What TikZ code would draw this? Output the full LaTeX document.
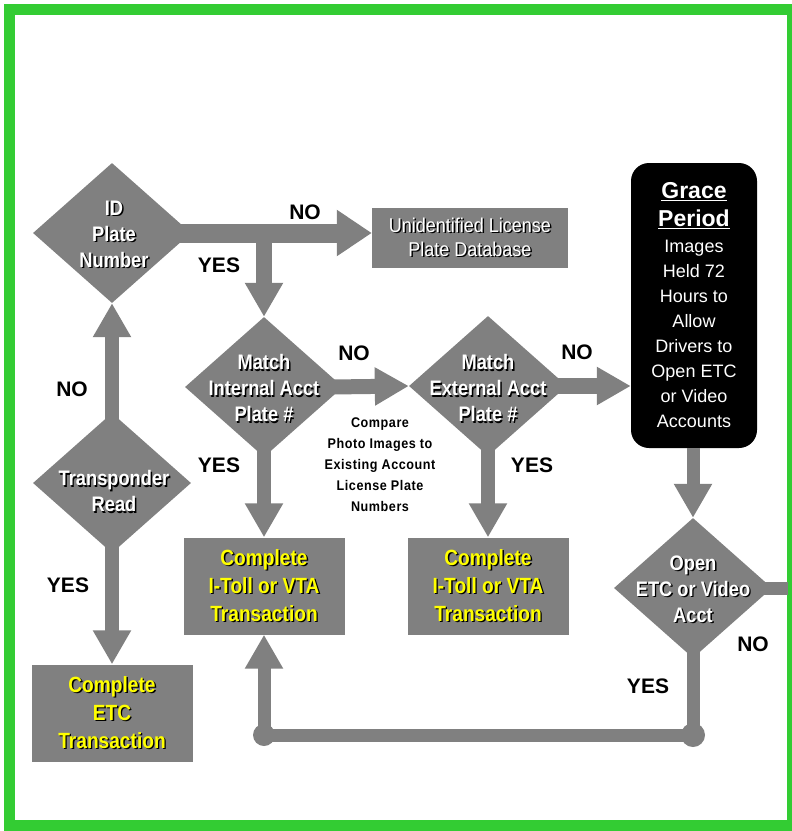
\documentclass[tikz,border=0pt]{standalone}
\usepackage{fontspec}
\setmainfont{Liberation Sans}
\newfontfamily\narrowfont[FakeStretch=0.87]{Liberation Sans}
\newfontfamily\unidfont[FakeStretch=0.9]{Liberation Sans}
\newfontfamily\cmpfont[FakeStretch=0.9,LetterSpace=4]{Liberation Sans}
\usetikzlibrary{shapes.geometric,arrows.meta}
\definecolor{fg}{RGB}{128,128,128}
\definecolor{grn}{RGB}{51,204,51}
\definecolor{ylw}{RGB}{255,255,0}
\newcommand\sdw[1]{\leavevmode\rlap{\kern1.4pt\raisebox{-1.4pt}{\textcolor{black}{#1}}}#1}
\begin{document}
\begin{tikzpicture}[x=1pt,y=-1pt,
  dia/.style={diamond, fill=fg, inner sep=0pt, minimum width=158pt, minimum height=140pt},
  dtext/.style={text=white, font=\narrowfont\fontsize{21}{26}\selectfont\bfseries, align=center, inner sep=0pt},
  rbox/.style={rectangle, fill=fg, inner sep=0pt, minimum width=161pt, minimum height=97pt},
  ctext/.style={text=ylw, font=\narrowfont\fontsize{22}{28}\selectfont\bfseries, align=center},
  lbl/.style={font=\fontsize{21}{21}\selectfont\bfseries, text=black, inner sep=0pt},
  conn/.style={draw=fg, line width=14pt},
  arr/.style={conn, -{Triangle[width=36pt,length=34pt]}},
]
\useasboundingbox (0,0) rectangle (792,831);
\fill[white] (0,0) rectangle (792,831);
\fill[grn] (4,4) rectangle (792,831);
\fill[white] (15,15) rectangle (787,820);

% decision diamonds
\node[dia] (id) at (112,233) {};
\node[dtext] (idt) at (114,235) {\sdw{ID}\\\sdw{Plate}\\\sdw{Number}};
\node[dia] (tr) at (112,483) {};
\node[dtext] (trt) at (114,492) {\sdw{Transponder}\\\sdw{Read}};
\node[dia] (mi) at (264,387) {};
\node[dtext] (mit) at (264,389) {\sdw{Match}\\\sdw{Internal Acct}\\\sdw{Plate \#}};
\node[dia] (me) at (488,386) {};
\node[dtext] (met) at (488,389) {\sdw{Match}\\\sdw{External Acct}\\\sdw{Plate \#}};
\node[dia] (op) at (693,588) {};
\node[dtext] (opt) at (693,590) {\sdw{Open}\\\sdw{ETC or Video}\\\sdw{Acct}};

% boxes
\node[rbox, minimum width=196pt, minimum height=60pt, text=white, align=center,
      font=\unidfont\fontsize{20}{24}\selectfont] (unid) at (470,238)
      {\sdw{Unidentified License}\\\sdw{Plate Database}};
\node[rbox, ctext] (etc) at (112,713) {\sdw{Complete}\\\sdw{ETC}\\\sdw{Transaction}};
\node[rbox, ctext] (itl) at (264,586) {\sdw{Complete}\\\sdw{I-Toll or VTA}\\\sdw{Transaction}};
\node[rbox, ctext] (itr) at (488,586) {\sdw{Complete}\\\sdw{I-Toll or VTA}\\\sdw{Transaction}};
\node[fill=black, rounded corners=18pt, minimum width=126pt, minimum height=285pt, inner sep=0pt,
      text=white, align=center, font=\fontsize{18}{25}\selectfont] (grace) at (694,305.5)
  {{\fontsize{23}{25}\selectfont\bfseries\underline{Grace}}\\[3pt]
   {\fontsize{23}{25}\selectfont\bfseries\underline{Period}}\\[1pt]
   Images\\Held 72\\Hours to\\Allow\\Drivers to\\Open ETC\\or Video\\Accounts};

% note text
\node[font=\cmpfont\fontsize{14}{21}\selectfont\bfseries, align=center, inner sep=0pt] (cmp) at (380,465)
  {Compare\\Photo Images to\\Existing Account\\License Plate\\Numbers};

% labels
\node[lbl] (l1) at (305,212) {NO};
\node[lbl] (l2) at (219,265) {YES};
\node[lbl] (l3) at (72,389) {NO};
\node[lbl] (l4) at (354,353) {NO};
\node[lbl] (l5) at (219,465) {YES};
\node[lbl] (l6) at (577,352) {NO};
\node[lbl] (l7) at (532,465) {YES};
\node[lbl] (l8) at (68,585) {YES};
\node[lbl] (l9) at (753,644) {NO};
\node[lbl] (l10) at (648,686) {YES};

% helper coordinates
\coordinate (opr) at (788,588);
\coordinate (j2) at (693,735);
\coordinate (j3) at (itl.south |- j2);

% connectors
\draw[conn, line width=19pt, -{Triangle[width=44pt,length=35pt]}] ([xshift=-16pt]id.east) -- (id.east -| unid.west);
\draw[arr, line width=16pt] (mi.north |- id.east) -- (mi.north);
\draw[arr] ([yshift=-12pt]tr.north) -- (id.south);
\draw[arr] ([yshift=12pt]tr.south) -- (etc.north);
\draw[arr] ([yshift=12pt]mi.south) -- (itl.north);
\draw[arr, line width=15pt] ([xshift=-12pt]mi.east) -- (me.west);
\draw[arr] ([yshift=12pt]me.south) -- (itr.north);
\draw[arr, line width=16pt] ([xshift=-12pt]me.east) -- (grace.west |- me.east);
\draw[arr, line width=13pt] (op.north |- grace.south) -- (op.north);
\draw[conn, line width=13pt] ([xshift=-12pt]op.east) -- (opr);
\draw[conn, line width=13pt, -{Triangle[width=36pt,length=34pt]}] ([yshift=12pt]op.south) -- (j2) -- (j3) -- (itl.south);
\fill[fg] (j2) circle[radius=12pt];
\fill[fg] (j3) circle[radius=11pt];
\end{tikzpicture}
\end{document}
